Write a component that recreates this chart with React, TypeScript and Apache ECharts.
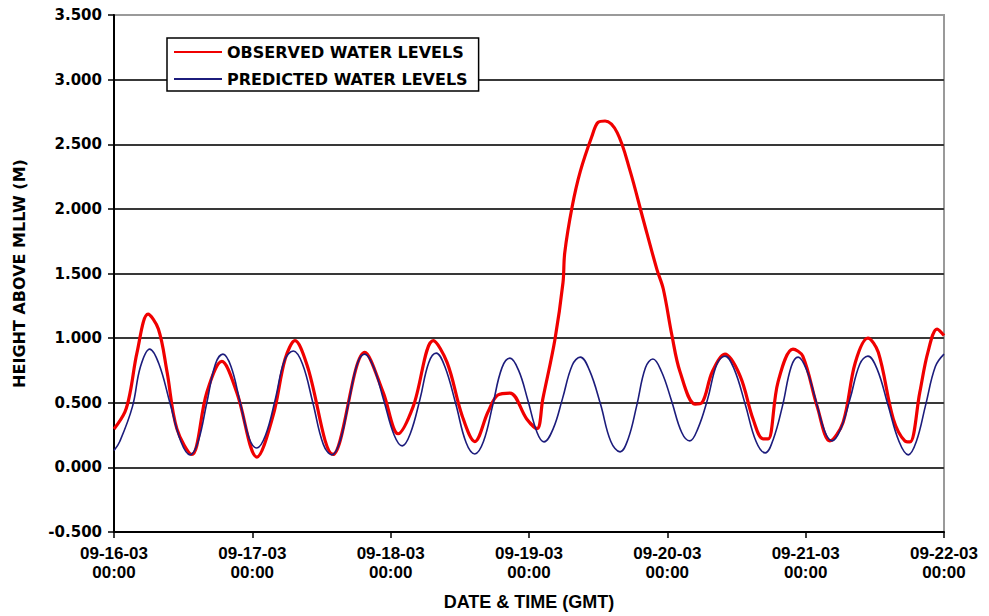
import React, { useEffect, useRef } from "react";
import * as echarts from "echarts";

// Hours since 09-16-03 00:00 GMT and water height above MLLW (m)
const observedHours = [
  0, 1.9, 2.8, 4, 5.9, 7.7, 9.2, 10.9, 13.5, 16.1, 18.7, 21.3, 24.8, 27.6, 29.7, 31.4,
  33.5, 38, 43.5, 46.7, 49.3, 51.9, 55.4, 57.8, 60.4, 62.6, 64.9, 66.6, 68.7, 71.6,
  73.4, 74.4, 76.5, 77.9, 78.2, 79.5, 80.9, 82.9, 84, 85.2, 87.3, 89.5, 91.8, 94.2,
  95.3, 96.8, 98.2, 100.8, 102, 103.8, 106, 108.6, 110.9, 112.6, 113.5, 115.2, 117.8,
  119.5, 122, 124.2, 126.5, 128.6, 130.8, 132.6, 135.2, 137.2, 138.1, 139.8, 141.2,
  142.8, 144,
];
const observedLevels = [
  0.297, 0.43, 0.58, 0.89, 1.185, 1.07, 0.74, 0.3, 0.1, 0.58, 0.82, 0.58, 0.08, 0.4, 0.84, 0.98,
  0.79, 0.1, 0.89, 0.58, 0.26, 0.47, 0.98, 0.81, 0.4, 0.2, 0.43, 0.56, 0.575, 0.375,
  0.3, 0.53, 0.99, 1.43, 1.66, 2.02, 2.29, 2.56, 2.67, 2.68, 2.59, 2.3, 1.92, 1.53,
  1.38, 1.02, 0.74, 0.49, 0.5, 0.74, 0.876, 0.71, 0.37, 0.22, 0.22, 0.66, 0.915,
  0.86, 0.47, 0.205, 0.35, 0.81, 1.0, 0.89, 0.375, 0.205, 0.197, 0.58, 0.89,
  1.07, 1.02,
];

const predictedHours = [
  0, 1, 3.2, 4.6, 6.2, 7.8, 9.7, 11.6, 13.2, 14.6, 16.1, 17.6, 18.9, 20.3, 21.9, 23.5,
  24.8, 26.3, 28, 29.6, 31.1, 32.7, 34.5, 36.3, 37.8, 39.2, 40.7, 42.2, 43.5, 45, 46.8,
  48.6, 50, 51.4, 53.1, 54.6, 55.9, 57.4, 59.3, 61.1, 62.6, 64.1, 65.7, 67.3, 68.7,
  70.2, 71.8, 73.4, 74.6, 76.2, 77.8, 79.5, 80.9, 82.5, 84.4, 86.2, 87.8, 89.2, 90.7,
  92.2, 93.5, 95, 96.7, 98.5, 99.9, 101.3, 103, 104.6, 106, 107.6, 109.5, 111.4, 113,
  114.4, 116, 117.5, 118.7, 120.2, 121.7, 123.3, 124.6, 126.1, 127.7, 129.4, 130.8,
  132.4, 134.3, 136.2, 137.8, 139.2, 140.8, 142.5, 144,
];
const predictedLevels = [
  0.13, 0.2, 0.47, 0.78, 0.915, 0.8, 0.5, 0.2, 0.097, 0.2, 0.5, 0.8, 0.876, 0.78, 0.5, 0.22,
  0.15, 0.25, 0.53, 0.83, 0.9, 0.8, 0.5, 0.18, 0.097, 0.2, 0.5, 0.8, 0.876, 0.78, 0.52,
  0.25, 0.166, 0.26, 0.53, 0.81, 0.884, 0.78, 0.49, 0.19, 0.104, 0.2, 0.48, 0.77, 0.845,
  0.75, 0.52, 0.27, 0.197, 0.3, 0.53, 0.79, 0.853, 0.75, 0.49, 0.2, 0.12, 0.22, 0.48,
  0.77, 0.838, 0.74, 0.52, 0.27, 0.205, 0.3, 0.53, 0.8, 0.861, 0.76, 0.49, 0.2, 0.112,
  0.22, 0.48, 0.78, 0.853, 0.75, 0.53, 0.28, 0.205, 0.3, 0.53, 0.8, 0.861,
  0.76, 0.48, 0.2, 0.097, 0.2, 0.48, 0.78, 0.876,
];

const dayLabels = ["09-16-03", "09-17-03", "09-18-03", "09-19-03", "09-20-03", "09-21-03", "09-22-03"];
const timeLabel = "00:00";

const seriesNames = ["OBSERVED WATER LEVELS", "PREDICTED WATER LEVELS"];

const zip = (xs: number[], ys: number[]) => xs.map((x, i) => [x, ys[i]]);

export default function App() {
  const ref = useRef<HTMLDivElement>(null);

  useEffect(() => {
    if (!ref.current) return;
    const chart = echarts.init(ref.current, null, { renderer: "svg" });
    const wide = "DejaVu Sans";
    const narrow = "Liberation Sans, Arial, sans-serif";
    chart.setOption({
      animation: false,
      backgroundColor: "#ffffff",
      grid: {
        left: 114,
        right: 45,
        top: 15,
        bottom: 84,
        show: true,
        borderColor: "#9a9a9a",
        borderWidth: 2,
        backgroundColor: "transparent",
      },
      legend: {
        orient: "vertical",
        left: 167,
        top: 38,
        padding: [5, 11, 3, 6],
        itemWidth: 48,
        itemHeight: 14,
        itemGap: 9,
        // line-only keys: hide the marker drawn in the middle of each key
        itemStyle: { opacity: 0 },
        backgroundColor: "#ffffff",
        borderColor: "#000000",
        borderWidth: 1.5,
        borderRadius: 0,
        textStyle: {
          fontFamily: wide,
          fontWeight: "bold",
          fontSize: 16,
          lineHeight: 18,
          color: "#000000",
        },
        data: seriesNames,
      },
      xAxis: {
        type: "value",
        min: 0,
        max: 144,
        interval: 24,
        name: "DATE & TIME (GMT)",
        nameLocation: "middle",
        nameGap: 61,
        nameTextStyle: {
          fontFamily: narrow,
          fontWeight: "bold",
          fontSize: 18,
          color: "#000000",
        },
        axisLine: { show: true, onZero: false, lineStyle: { color: "#000000", width: 2 } },
        axisTick: { show: true, length: 6, lineStyle: { color: "#000000", width: 1.5 } },
        splitLine: { show: false },
        axisLabel: {
          margin: 12,
          fontFamily: narrow,
          fontWeight: "bold",
          fontSize: 17,
          lineHeight: 19,
          color: "#000000",
          formatter: (v: number) => `${dayLabels[Math.round(v / 24)]}\n${timeLabel}`,
        },
      },
      yAxis: {
        type: "value",
        min: -0.5,
        max: 3.5,
        interval: 0.5,
        name: "HEIGHT ABOVE MLLW (M)",
        nameLocation: "middle",
        nameGap: 87,
        nameTextStyle: {
          fontFamily: wide,
          fontWeight: "bold",
          fontSize: 16,
          color: "#000000",
        },
        axisLine: { show: true, lineStyle: { color: "#000000", width: 2 } },
        axisTick: { show: true, length: 6, lineStyle: { color: "#000000", width: 1.5 } },
        splitLine: {
          show: true,
          showMaxLine: false,
          lineStyle: { color: "#383838", width: 2 },
        },
        axisLabel: {
          margin: 12,
          fontFamily: wide,
          fontWeight: "bold",
          fontSize: 15,
          color: "#000000",
          formatter: (v: number) => v.toFixed(3),
        },
      },
      series: [
        {
          name: seriesNames[0],
          type: "line",
          data: zip(observedHours, observedLevels),
          symbol: "none",
          smooth: 0.35,
          lineStyle: { color: "#f00000", width: 3.2 },
          itemStyle: { color: "#f00000" },
          z: 2,
        },
        {
          name: seriesNames[1],
          type: "line",
          data: zip(predictedHours, predictedLevels),
          symbol: "none",
          smooth: 0.4,
          lineStyle: { color: "#1c1c7c", width: 1.6 },
          itemStyle: { color: "#1c1c7c" },
          z: 3,
        },
      ],
    });
    return () => chart.dispose();
  }, []);

  return (
    <div
      ref={ref}
      style={{ position: "fixed", left: 0, top: 0, width: 989, height: 616, background: "#fff" }}
    />
  );
}
